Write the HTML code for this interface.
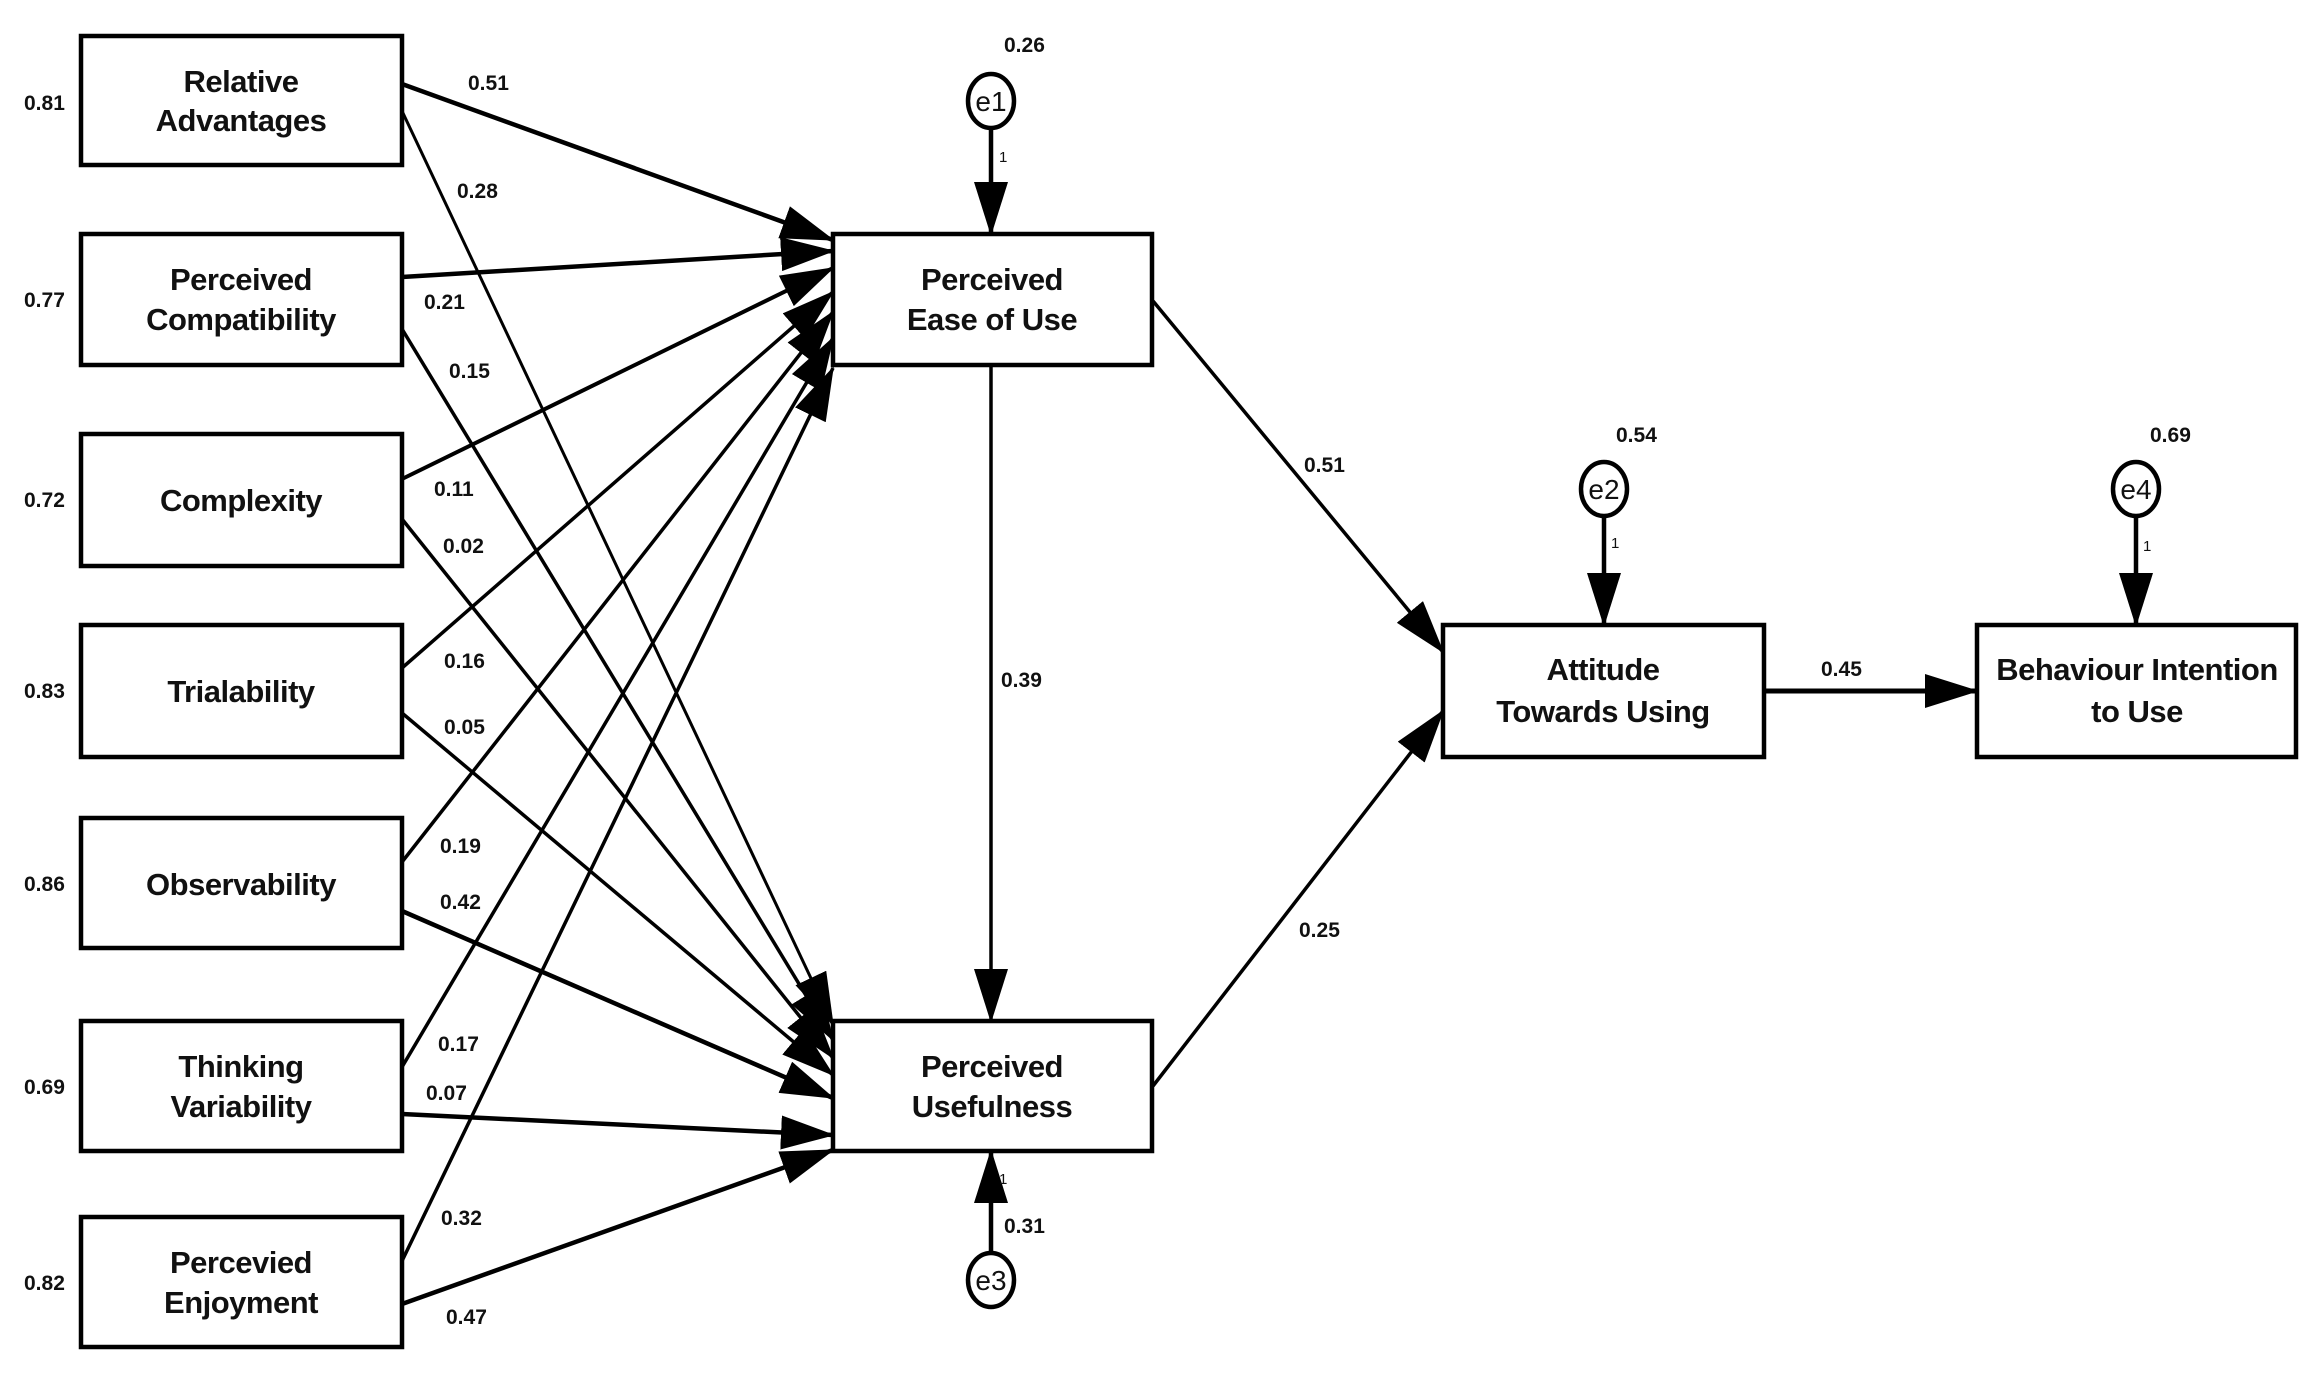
<!DOCTYPE html>
<html><head><meta charset="utf-8"><style>
html,body{margin:0;padding:0;background:#fff}
svg{display:block}
text{font-family:"Liberation Sans",Arial,sans-serif;fill:#111}
.n{font-size:31px;font-weight:bold;text-anchor:middle;letter-spacing:-0.5px}
.c{font-size:21px;font-weight:bold}
.e{font-size:28px;text-anchor:middle}
.o{font-size:15px}
</style></head><body>
<svg width="2324" height="1386" viewBox="0 0 2324 1386" xmlns="http://www.w3.org/2000/svg">
<defs>
<marker id="a" markerUnits="userSpaceOnUse" markerWidth="54" markerHeight="34" refX="52" refY="17" orient="auto"><path d="M0,0 L54,17 L0,34 Z" fill="#000"/></marker>
</defs>
<g fill="#fff" stroke="#000" stroke-width="4.5">
<rect x="81" y="36" width="321" height="129"/>
<rect x="81" y="234" width="321" height="131"/>
<rect x="81" y="434" width="321" height="132"/>
<rect x="81" y="625" width="321" height="132"/>
<rect x="81" y="818" width="321" height="130"/>
<rect x="81" y="1021" width="321" height="130"/>
<rect x="81" y="1217" width="321" height="130"/>
<rect x="833" y="234" width="319" height="131"/>
<rect x="833" y="1021" width="319" height="130"/>
<rect x="1443" y="625" width="321" height="132"/>
<rect x="1977" y="625" width="319" height="132"/>
<ellipse cx="991" cy="101" rx="23" ry="27"/>
<ellipse cx="991" cy="1280" rx="23" ry="27"/>
<ellipse cx="1604" cy="489" rx="23" ry="27"/>
<ellipse cx="2136" cy="489" rx="23" ry="27"/>
</g>
<g stroke="#000" fill="none" marker-end="url(#a)">
<line x1="402" y1="84" x2="833" y2="240" stroke-width="4.5"/>
<line x1="402" y1="277" x2="833" y2="251" stroke-width="4.5"/>
<line x1="402" y1="479" x2="833" y2="268" stroke-width="4"/>
<line x1="402" y1="668" x2="833" y2="292" stroke-width="3.5"/>
<line x1="402" y1="862" x2="833" y2="312" stroke-width="3.5"/>
<line x1="402" y1="1067" x2="833" y2="338" stroke-width="3.5"/>
<line x1="402" y1="1261" x2="833" y2="368" stroke-width="3.5"/>
<line x1="402" y1="111" x2="833" y2="1025" stroke-width="3"/>
<line x1="402" y1="329" x2="833" y2="1040" stroke-width="3.5"/>
<line x1="402" y1="519" x2="833" y2="1058" stroke-width="3.5"/>
<line x1="402" y1="713" x2="833" y2="1075" stroke-width="3.5"/>
<line x1="402" y1="911" x2="833" y2="1098" stroke-width="4.5"/>
<line x1="402" y1="1114" x2="833" y2="1135" stroke-width="4.5"/>
<line x1="402" y1="1304" x2="833" y2="1150" stroke-width="4.5"/>
<line x1="991" y1="365" x2="991" y2="1021" stroke-width="3.5"/>
<line x1="1153" y1="301" x2="1443" y2="652" stroke-width="3.5"/>
<line x1="1153" y1="1086" x2="1443" y2="711" stroke-width="3.5"/>
<line x1="1764" y1="691" x2="1977" y2="691" stroke-width="5"/>
<line x1="991" y1="128" x2="991" y2="234" stroke-width="4.5"/>
<line x1="991" y1="1253" x2="991" y2="1151" stroke-width="4.5"/>
<line x1="1604" y1="516" x2="1604" y2="625" stroke-width="4.5"/>
<line x1="2136" y1="516" x2="2136" y2="625" stroke-width="4.5"/>
</g>
<text class="n" x="241" y="92">Relative</text><text class="n" x="241" y="131">Advantages</text>
<text class="n" x="241" y="290">Perceived</text><text class="n" x="241" y="330">Compatibility</text>
<text class="n" x="241" y="511">Complexity</text>
<text class="n" x="241" y="702">Trialability</text>
<text class="n" x="241" y="895">Observability</text>
<text class="n" x="241" y="1077">Thinking</text><text class="n" x="241" y="1117">Variability</text>
<text class="n" x="241" y="1273">Percevied</text><text class="n" x="241" y="1313">Enjoyment</text>
<text class="n" x="992" y="290">Perceived</text><text class="n" x="992" y="330">Ease of Use</text>
<text class="n" x="992" y="1077">Perceived</text><text class="n" x="992" y="1117">Usefulness</text>
<text class="n" x="1603" y="680">Attitude</text><text class="n" x="1603" y="722">Towards Using</text>
<text class="n" x="2137" y="680">Behaviour Intention</text><text class="n" x="2137" y="722">to Use</text>
<text class="e" x="991" y="111">e1</text>
<text class="e" x="991" y="1290">e3</text>
<text class="e" x="1604" y="499">e2</text>
<text class="e" x="2136" y="499">e4</text>
<g class="c">
<text x="24" y="110">0.81</text><text x="24" y="307">0.77</text><text x="24" y="507">0.72</text>
<text x="24" y="698">0.83</text><text x="24" y="891">0.86</text><text x="24" y="1094">0.69</text><text x="24" y="1290">0.82</text>
<text x="468" y="90">0.51</text><text x="457" y="198">0.28</text><text x="424" y="309">0.21</text><text x="449" y="378">0.15</text>
<text x="434" y="496">0.11</text><text x="443" y="553">0.02</text><text x="444" y="668">0.16</text><text x="444" y="734">0.05</text>
<text x="440" y="853">0.19</text><text x="440" y="909">0.42</text><text x="438" y="1051">0.17</text><text x="426" y="1100">0.07</text>
<text x="441" y="1225">0.32</text><text x="446" y="1324">0.47</text>
<text x="1001" y="687">0.39</text><text x="1304" y="472">0.51</text><text x="1299" y="937">0.25</text><text x="1821" y="676">0.45</text>
<text x="1004" y="52">0.26</text><text x="1616" y="442">0.54</text><text x="2150" y="442">0.69</text><text x="1004" y="1233">0.31</text>
</g>
<g class="o">
<text x="999" y="162">1</text><text x="1611" y="548">1</text><text x="2143" y="551">1</text><text x="999" y="1184">1</text>
</g>
</svg>
</body></html>
